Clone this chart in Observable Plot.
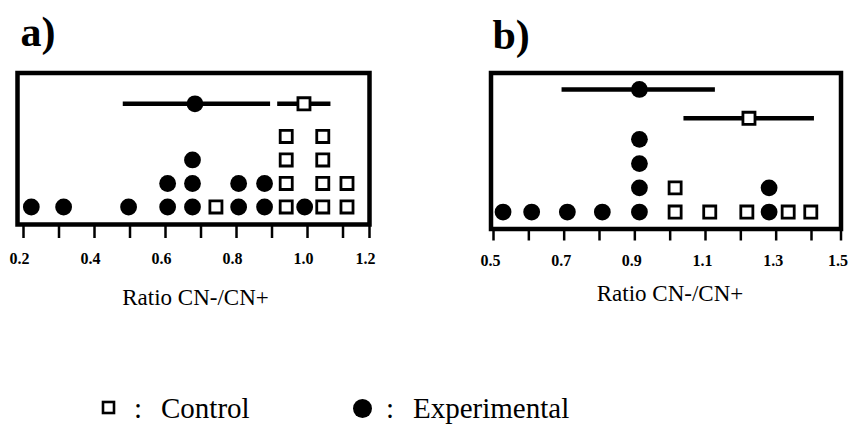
<!DOCTYPE html>
<html>
<head>
<meta charset="utf-8">
<script src="https://cdn.jsdelivr.net/npm/d3@7"></script>
<script src="https://cdn.jsdelivr.net/npm/@observablehq/plot@0.6"></script>
<style>
  html, body { margin: 0; padding: 0; background: #fff; }
  #wrap { position: relative; width: 849px; height: 426px; background: #fff; overflow: hidden; }
  #wrap > * { position: absolute; }
  text { font-family: "Liberation Serif", "Times New Roman", serif; }
</style>
</head>
<body>
<div id="wrap"></div>
<script>
// ---------------- data ----------------
const groups = ["Control", "Experimental"];

// panel a) individual ratios
const controlA = [0.742, 0.94, 0.94, 0.94, 0.94, 1.043, 1.043, 1.043, 1.043, 1.115, 1.115];
const experimentalA = [0.222, 0.313, 0.496, 0.606, 0.606, 0.676, 0.676, 0.676, 0.806, 0.806, 0.879, 0.879, 0.992];
// panel a) mean and error bar (Control, Experimental)
const meanA = [0.990, 0.683];
const lowA = [0.916, 0.481];
const highA = [1.066, 0.896];
const rowA = [5.39, 5.39];

// panel b) individual ratios
const controlB = [1.014, 1.014, 1.112, 1.217, 1.334, 1.398];
const experimentalB = [0.527, 0.608, 0.709, 0.808, 0.913, 0.913, 0.913, 0.913, 1.28, 1.28];
// panel b) mean and error bar (Control, Experimental)
const meanB = [1.223, 0.913];
const lowB = [1.039, 0.694];
const highB = [1.41, 1.128];
const rowB = [4.87, 6.06];

// axis ticks
const ticksA = [0.2, 0.3, 0.4, 0.5, 0.6, 0.7, 0.8, 0.9, 1.0, 1.1, 1.2];
const labelsA = [0.2, 0.4, 0.6, 0.8, 1.0, 1.2];
const ticksB = [0.5, 0.6, 0.7, 0.8, 0.9, 1.0, 1.1, 1.2, 1.3, 1.4, 1.5];
const labelsB = [0.5, 0.7, 0.9, 1.1, 1.3, 1.5];
const axisLabel = "Ratio CN-/CN+";
const panelLetters = ["a)", "b)"];

// ---------------- helpers ----------------
function stackLevels(values) {
  const seen = new Map();
  return values.map(v => {
    const k = (seen.get(v) || 0) + 1;
    seen.set(v, k);
    return {x: v, level: k};
  });
}

// the last tick interval of each original axis is drawn compressed
function compressAbove(knee, factor) {
  return v => (v <= knee ? v : knee + (v - knee) * factor);
}

function panel(o) {
  const ctrl = stackLevels(o.control);
  const exp = stackLevels(o.experimental);
  const means = groups.map((g, i) => ({group: g, mean: o.mean[i], low: o.low[i], high: o.high[i], row: o.row[i]}));
  const squareStyle = {symbol: "square", r: 6.8, fill: "white", stroke: "black", strokeWidth: 2.8};
  const circleStyle = {r: 8.4, fill: "black", stroke: "none"};
  return Plot.plot({
    width: o.width,
    height: o.height,
    marginLeft: o.margin[3],
    marginRight: o.margin[1],
    marginTop: o.margin[0],
    marginBottom: o.margin[2],
    x: {domain: o.xDomain, transform: o.xTransform},
    y: {domain: o.yDomain, axis: null},
    style: {fontFamily: "'Liberation Serif', 'Times New Roman', serif", fontSize: "16px", fontWeight: "bold", overflow: "visible", background: "transparent", color: "black"},
    marks: [
      Plot.axisX(o.ticks, {anchor: "bottom", tickSize: o.tickSize, strokeWidth: 2.5, tickFormat: () => ""}),
      Plot.axisX(o.labels, {anchor: "bottom", tickSize: 0, tickPadding: o.tickPad, dx: o.labelShift, tickFormat: d => d.toFixed(1), fontSize: 16, fontWeight: "bold"}),
      Plot.text([axisLabel], {frameAnchor: "bottom", lineAnchor: "top", dy: o.titleDy, dx: o.titleDx, fontSize: 23, fontWeight: "normal", fill: "black"}),
      Plot.text([o.letter], {frameAnchor: "top-left", lineAnchor: "bottom", textAnchor: "start", dx: o.letterDx, dy: o.letterDy, fontSize: 42, fontWeight: "bold", fill: "black"}),
      Plot.frame({stroke: "black", strokeWidth: 4.5}),
      Plot.ruleY(means, {y: "row", x1: "low", x2: "high", stroke: "black", strokeWidth: 4.5}),
      Plot.dot(exp, {x: "x", y: "level", ...circleStyle}),
      Plot.dot(ctrl, {x: "x", y: "level", ...squareStyle}),
      Plot.dot(means.filter(d => d.group === "Experimental"), {x: "mean", y: "row", ...circleStyle}),
      Plot.dot(means.filter(d => d.group === "Control"), {x: "mean", y: "row", ...squareStyle})
    ]
  });
}

const wrap = document.getElementById("wrap");

const plotA = panel({
  control: controlA, experimental: experimentalA,
  mean: meanA, low: lowA, high: highA, row: rowA,
  ticks: ticksA, labels: labelsA, letter: panelLetters[0],
  width: 430, height: 320, margin: [72.5, 61, 96, 17],
  xDomain: [0.1831, 1.1746], xTransform: compressAbove(1.1, 0.746),
  yDomain: [0.255, 6.70],
  tickSize: 14, tickPad: 28, labelShift: -4, titleDy: 64, titleDx: 2,
  letterDx: 3, letterDy: -27
});
plotA.style.left = "0px";
plotA.style.top = "0px";
wrap.appendChild(plotA);

const plotB = panel({
  control: controlB, experimental: experimentalB,
  mean: meanB, low: lowB, high: highB, row: rowB,
  ticks: ticksB, labels: labelsB, letter: panelLetters[1],
  width: 419, height: 320, margin: [72.5, 8.5, 91.5, 60.5],
  xDomain: [0.4929, 1.4835], xTransform: compressAbove(1.4, 0.835),
  yDomain: [0.30, 6.74],
  tickSize: 12, tickPad: 25.5, labelShift: -3, titleDy: 55.5, titleDx: 4,
  letterDx: 1.5, letterDy: -24
});
plotB.style.left = "430px";
plotB.style.top = "0px";
wrap.appendChild(plotB);

// ---------------- legend ----------------
const ns = "http://www.w3.org/2000/svg";
const legend = document.createElementNS(ns, "svg");
legend.setAttribute("width", 849);
legend.setAttribute("height", 106);
legend.style.left = "0px";
legend.style.top = "320px";
wrap.appendChild(legend);

function addText(str, x, y) {
  const t = document.createElementNS(ns, "text");
  t.setAttribute("x", x);
  t.setAttribute("y", y);
  t.setAttribute("font-size", 29);
  t.setAttribute("font-family", "'Liberation Serif', 'Times New Roman', serif");
  t.setAttribute("fill", "black");
  t.textContent = str;
  legend.appendChild(t);
}
const sq = document.createElementNS(ns, "rect");
sq.setAttribute("x", 103); sq.setAttribute("y", 82);
sq.setAttribute("width", 11); sq.setAttribute("height", 11);
sq.setAttribute("fill", "white"); sq.setAttribute("stroke", "black"); sq.setAttribute("stroke-width", 2.6);
legend.appendChild(sq);
addText(":", 134, 98);
addText(groups[0], 161, 98);

const ci = document.createElementNS(ns, "circle");
ci.setAttribute("cx", 362.5); ci.setAttribute("cy", 88.5); ci.setAttribute("r", 9.5);
ci.setAttribute("fill", "black");
legend.appendChild(ci);
addText(":", 386, 98);
addText(groups[1], 413, 98);
</script>
</body>
</html>
